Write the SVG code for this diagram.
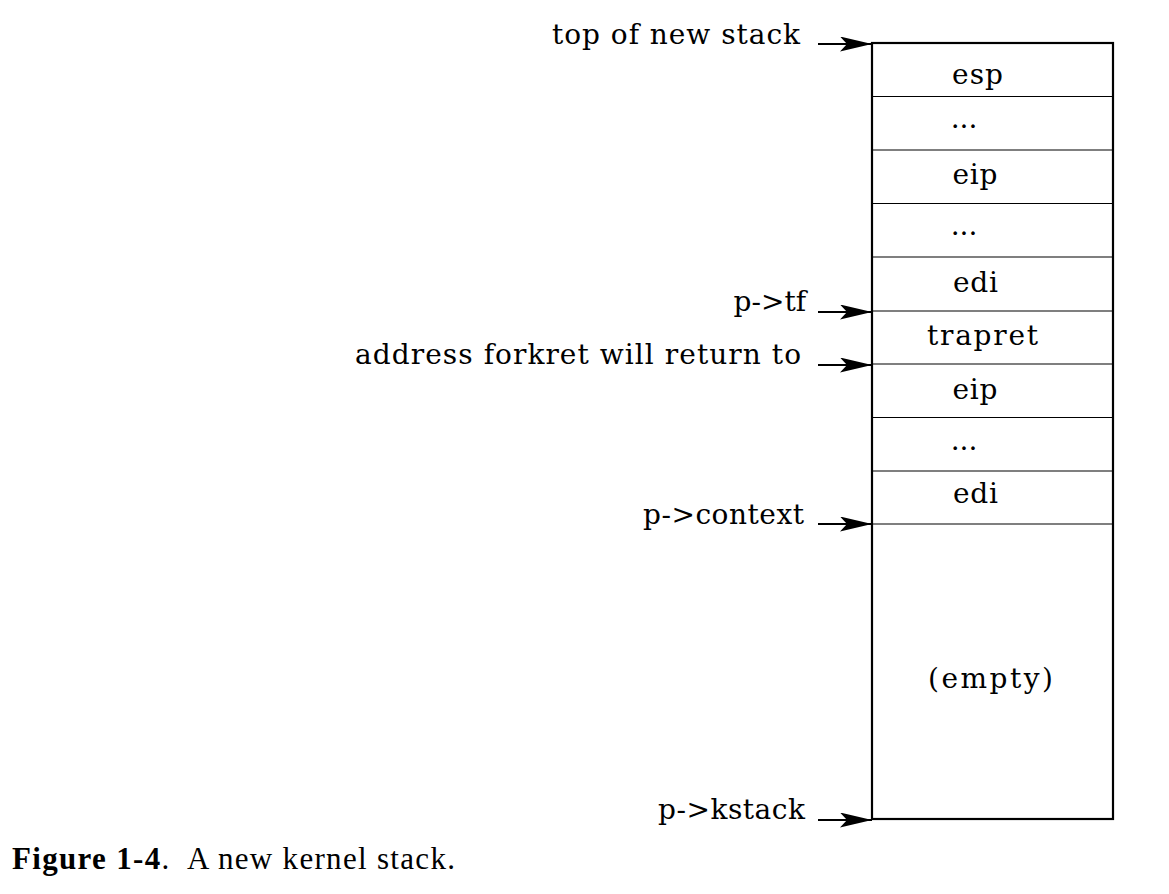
<svg xmlns="http://www.w3.org/2000/svg" width="1169" height="894" viewBox="0 0 1169 894">
<style>
.lbl{font-family:"DejaVu Serif","Liberation Serif",serif;font-size:28px;fill:#000}
.r{text-anchor:end}
.c{text-anchor:middle}
.cap{font-family:"Liberation Serif",serif;font-size:31px;fill:#000}
.row{stroke:#000;stroke-width:1.2;fill:none}
.conn{stroke:#000;stroke-width:2;fill:none}
</style>
<defs>
<marker id="ah" markerUnits="userSpaceOnUse" markerWidth="40" markerHeight="20" refX="32" refY="7.5" orient="auto">
<path d="M0,0 L32,7.5 L0,15 L7,7.5 Z" fill="#000"/>
</marker>
</defs>
<rect width="1169" height="894" fill="#fff"/>
<g id="stack">
<rect x="872" y="43" width="241" height="776" fill="none" stroke="#000" stroke-width="2.2"/>
<line class="row" x1="872" y1="96.5" x2="1113" y2="96.5"/>
<line class="row" x1="872" y1="150" x2="1113" y2="150"/>
<line class="row" x1="872" y1="203.5" x2="1113" y2="203.5"/>
<line class="row" x1="872" y1="257" x2="1113" y2="257"/>
<line class="row" x1="872" y1="311" x2="1113" y2="311"/>
<line class="row" x1="872" y1="364" x2="1113" y2="364"/>
<line class="row" x1="872" y1="417.5" x2="1113" y2="417.5"/>
<line class="row" x1="872" y1="471" x2="1113" y2="471"/>
<line class="row" x1="872" y1="524" x2="1113" y2="524"/>
</g>
<g id="cell-esp"><text class="lbl c" x="977.5" y="84" textLength="51">esp</text></g>
<g id="cell-dots1"><text class="lbl c" x="964" y="128">...</text></g>
<g id="cell-eip1"><text class="lbl c" x="975" y="184" textLength="45">eip</text></g>
<g id="cell-dots2"><text class="lbl c" x="964" y="235">...</text></g>
<g id="cell-edi1"><text class="lbl c" x="975.5" y="292" textLength="45">edi</text></g>
<g id="cell-trapret"><text class="lbl c" x="982.5" y="345" textLength="111">trapret</text></g>
<g id="cell-eip2"><text class="lbl c" x="975" y="399" textLength="45">eip</text></g>
<g id="cell-dots3"><text class="lbl c" x="964" y="450">...</text></g>
<g id="cell-edi2"><text class="lbl c" x="975.5" y="503" textLength="45">edi</text></g>
<g id="cell-empty"><text class="lbl c" x="990.5" y="688" textLength="125">(empty)</text></g>
<g id="label-top"><text class="lbl r" x="800" y="44" textLength="248">top of new stack</text></g>
<g id="label-tf"><text class="lbl r" x="806" y="311">p-&gt;tf</text></g>
<g id="label-forkret"><text class="lbl r" x="801" y="364" textLength="446">address forkret will return to</text></g>
<g id="label-context"><text class="lbl r" x="804" y="524" textLength="161">p-&gt;context</text></g>
<g id="label-kstack"><text class="lbl r" x="805" y="819" textLength="147">p-&gt;kstack</text></g>
<g id="connectors">
<line class="conn" x1="818" y1="44" x2="872" y2="44" marker-end="url(#ah)"/>
<line class="conn" x1="818" y1="312" x2="872" y2="312" marker-end="url(#ah)"/>
<line class="conn" x1="818" y1="365" x2="872" y2="365" marker-end="url(#ah)"/>
<line class="conn" x1="818" y1="524" x2="872" y2="524" marker-end="url(#ah)"/>
<line class="conn" x1="818" y1="820" x2="872" y2="820" marker-end="url(#ah)"/>
</g>
<g id="caption"><text class="cap" x="12" y="869" textLength="443" lengthAdjust="spacing"><tspan font-weight="bold">Figure 1-4</tspan>.&#160; A new kernel stack.</text></g>
</svg>
